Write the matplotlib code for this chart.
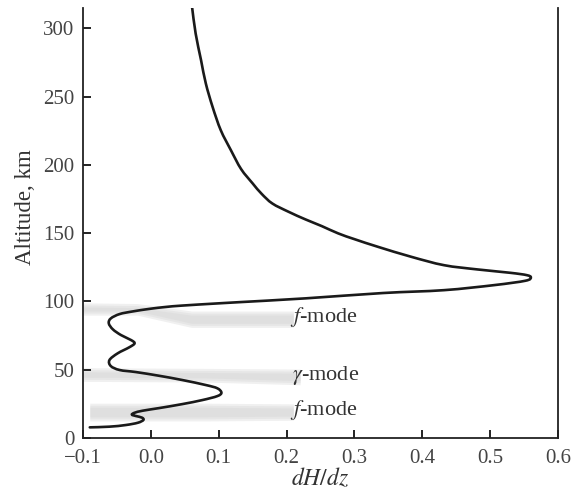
import numpy as np
import matplotlib
matplotlib.use("Agg")
import matplotlib.pyplot as plt
from matplotlib.path import Path
from matplotlib.patches import PathPatch

plt.rcParams['font.family'] = ['Liberation Serif', 'DejaVu Serif']
plt.rcParams['mathtext.fontset'] = 'stix'

# dH/dz profile (x value, altitude km), from the bottom end upward
dhdz = [-0.090, -0.061, -0.037, -0.019, -0.011, -0.013, -0.022, -0.028, -0.024, -0.012,
        0.012, 0.046, 0.076, 0.098, 0.104, 0.098, 0.081, 0.046, 0.012, -0.022,
        -0.046, -0.059, -0.061, -0.049, -0.032, -0.024, -0.029, -0.044, -0.056, -0.062,
        -0.059, -0.046, -0.027, -0.002, 0.022, 0.046, 0.095, 0.130, 0.228, 0.342,
        0.432, 0.506, 0.552, 0.560, 0.554, 0.530, 0.481, 0.432, 0.384, 0.335,
        0.301, 0.276, 0.252, 0.228, 0.203, 0.179, 0.163, 0.150, 0.133, 0.118,
        0.103, 0.091, 0.081, 0.074, 0.066, 0.061, 0.060]
alt = [7.8, 8.3, 9.5, 11.2, 13.2, 14.9, 16.1, 17.1, 18.5, 20.0,
       21.9, 24.8, 27.8, 30.7, 33.2, 36.4, 38.8, 42.5, 45.6, 48.3,
       49.8, 52.7, 57.1, 62.0, 66.4, 69.3, 71.7, 75.4, 79.6, 84.0,
       87.6, 90.8, 92.7, 94.6, 96.0, 97.0, 98.5, 99.5, 102.3, 106.2,
       108.3, 112.0, 115.2, 117.6, 119.3, 121.0, 123.5, 126.6, 132.7, 140.0,
       145.5, 149.9, 155.2, 160.1, 165.7, 171.8, 179.0, 186.5, 197.0, 210.8,
       225.5, 242.5, 259.7, 276.7, 296.3, 314.6, 317.0]

# shaded mode bands: x positions, lower / upper altitude
band_x = [[-0.1, -0.02, 0.06, 0.21], [-0.1, 0.08, 0.22], [-0.09, 0.08, 0.21]]
band_lo = [[90, 90, 81, 81], [41.5, 41, 39], [12.5, 12.5, 13]]
band_hi = [[99, 98.5, 93, 93], [51.5, 51, 50.5], [25.5, 25.5, 25]]

mode_labels = ['$f$-mode', r'$\gamma$-mode', '$f$-mode']
mode_x = [0.205, 0.208, 0.205]
mode_y = [89, 46, 20.5]

xticks = [-0.1, 0.0, 0.1, 0.2, 0.3, 0.4, 0.5, 0.6]
xticklabels = ['\u22120.1', '0.0', '0.1', '0.2', '0.3', '0.4', '0.5', '0.6']
yticks = [0, 50, 100, 150, 200, 250, 300]


def smooth_path(ax, xs, ys):
    # Bezier path through the read points (Catmull-Rom tangents), built in screen space
    pts = ax.transData.transform(np.column_stack([xs, ys]))
    n = len(pts)
    verts = [pts[0]]
    codes = [Path.MOVETO]
    for i in range(n - 1):
        p0 = pts[max(i - 1, 0)]
        p1 = pts[i]
        p2 = pts[i + 1]
        p3 = pts[min(i + 2, n - 1)]
        c1 = p1 + (p2 - p0) / 6.0
        c2 = p2 - (p3 - p1) / 6.0
        verts += [c1, c2, p2]
        codes += [Path.CURVE4] * 3
    verts = ax.transData.inverted().transform(np.array(verts))
    return Path(verts, codes)


fig = plt.figure(figsize=(5.71, 4.97), dpi=100)
ax = fig.add_axes([83/571, 59/497, 475/571, 430/497])
ax.set_xlim(-0.1, 0.596)
ax.set_ylim(0, 315)

# soft grey bands: a few stacked layers, narrower toward the middle
for bx, lo, hi in zip(band_x, band_lo, band_hi):
    lo = np.array(lo, float)
    hi = np.array(hi, float)
    for shrink in [0.0, 1.5, 3.0]:
        ax.fill_between(bx, lo + shrink, hi - shrink, color='#d4d4d4', alpha=0.35,
                        lw=0, zorder=1)

curve = PathPatch(smooth_path(ax, dhdz, alt), fill=False, edgecolor='#1a1a1a',
                  lw=1.9, zorder=3, joinstyle='round', capstyle='round')
ax.add_patch(curve)

for lab, tx, ty in zip(mode_labels, mode_x, mode_y):
    ax.text(tx, ty, lab, fontsize=16, color='#333333', va='center', ha='left', zorder=4)

ax.set_xticks(xticks)
ax.set_xticklabels(xticklabels)
ax.set_yticks(yticks)
ax.tick_params(direction='in', length=6, width=1.4, labelsize=15, colors='#222222',
               labelcolor='#444444')
ax.tick_params(axis='x', pad=8)
ax.tick_params(axis='y', pad=6)
ax.spines['top'].set_visible(False)
for s in ['left', 'right', 'bottom']:
    ax.spines[s].set_linewidth(1.3)
    ax.spines[s].set_color('#222222')

ax.set_xlabel('$dH/dz$', fontsize=17, color='#333333', labelpad=-1)
ax.set_ylabel('Altitude, km', fontsize=16.5, color='#333333')
ax.yaxis.set_label_coords(-0.098, 0.537)

fig.savefig('out.png', dpi=100)
